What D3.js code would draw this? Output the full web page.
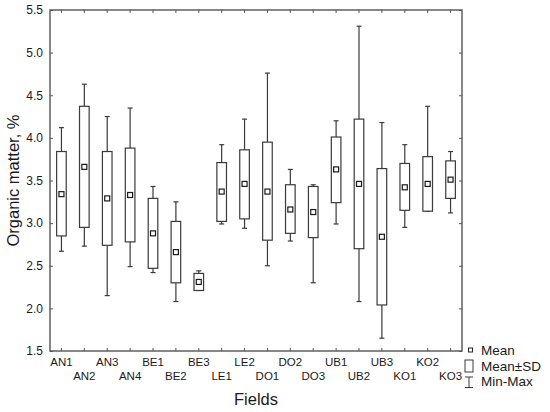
<!DOCTYPE html>
<html>
<head>
<meta charset="utf-8">
<script src="https://cdn.jsdelivr.net/npm/d3@7"></script>
<style>
  body { margin: 0; background: #fff; }
  svg { font-family: "Liberation Sans", Arial, sans-serif; }
</style>
</head>
<body>
<svg id="chart"></svg>
<script>
// field names and summary stats
const fields = ['AN1','AN2','AN3','AN4','BE1','BE2','BE3','LE1','LE2','DO1','DO2','DO3','UB1','UB2','UB3','KO1','KO2','KO3'];
const means  = [3.34, 3.66, 3.29, 3.33, 2.88, 2.66, 2.31, 3.37, 3.46, 3.37, 3.16, 3.13, 3.63, 3.46, 2.84, 3.42, 3.46, 3.51];
const sdHigh = [3.84, 4.37, 3.84, 3.88, 3.29, 3.02, 2.41, 3.71, 3.86, 3.95, 3.45, 3.43, 4.01, 4.22, 3.64, 3.70, 3.78, 3.73];
const sdLow  = [2.85, 2.95, 2.74, 2.78, 2.47, 2.30, 2.21, 3.02, 3.05, 2.80, 2.88, 2.83, 3.24, 2.70, 2.04, 3.15, 3.14, 3.29];
const maxes  = [4.12, 4.63, 4.25, 4.35, 3.43, 3.25, 2.44, 3.92, 4.22, 4.76, 3.63, 3.45, 4.20, 5.31, 4.18, 3.92, 4.37, 3.84];
const mins   = [2.67, 2.73, 2.15, 2.49, 2.42, 2.08, 2.21, 2.99, 2.94, 2.50, 2.79, 2.30, 2.99, 2.08, 1.65, 2.95, 3.14, 3.12];
const yTicks = [1.5, 2.0, 2.5, 3.0, 3.5, 4.0, 4.5, 5.0, 5.5];

const W = 550, H = 412;
const margin = { top: 10, right: 88, bottom: 61, left: 50 };
const width = W - margin.left - margin.right;
const height = H - margin.top - margin.bottom;
const lineCol = '#3a3a3a';
const textCol = '#1a1a1a';

const data = fields.map((f, i) => ({
  field: f, mean: means[i], hi: sdHigh[i], lo: sdLow[i], max: maxes[i], min: mins[i]
}));

const svg = d3.select('#chart').attr('width', W).attr('height', H);
const g = svg.append('g').attr('transform', `translate(${margin.left},${margin.top})`);

const x = d3.scaleBand().domain(fields).range([0, width]);
const y = d3.scaleLinear().domain([1.5, 5.5]).range([height, 0]);

const boxW = x.bandwidth() * 0.42;
const capW = 5;
const cx = d => x(d.field) + x.bandwidth() / 2;

// frame
g.append('rect')
  .attr('x', 0).attr('y', 0)
  .attr('width', width).attr('height', height)
  .attr('fill', 'none')
  .attr('stroke', '#555')
  .attr('stroke-width', 1.4);

// inward ticks on all four sides
const tickStyle = sel => sel.call(s => s.select('.domain').remove())
  .call(s => s.selectAll('.tick line').attr('stroke', '#555'))
  .call(s => s.selectAll('.tick text').attr('fill', textCol));

g.append('g')
  .call(d3.axisLeft(y).tickValues(yTicks).tickFormat(d3.format('.1f')).tickSizeInner(-3).tickPadding(7))
  .call(tickStyle)
  .selectAll('text').style('font-size', '12px');

g.append('g')
  .attr('transform', `translate(${width},0)`)
  .call(d3.axisRight(y).tickValues(yTicks).tickSizeInner(-3).tickFormat(''))
  .call(tickStyle);

g.append('g')
  .attr('transform', `translate(0,${height})`)
  .call(d3.axisBottom(x).tickSizeInner(-3).tickSizeOuter(0).tickPadding(7))
  .call(tickStyle)
  .selectAll('text')
  .style('font-size', '11.5px')
  .attr('dy', (d, i) => i % 2 ? '1.9em' : '0.7em');

g.append('g')
  .call(d3.axisTop(x).tickSizeInner(-3).tickSizeOuter(0).tickFormat(''))
  .call(tickStyle);

// boxes
const boxes = g.append('g').selectAll('g.box')
  .data(data)
  .join('g')
  .attr('class', 'box');

// whiskers
boxes.append('line')
  .attr('x1', cx).attr('x2', cx)
  .attr('y1', d => y(d.max)).attr('y2', d => y(d.hi))
  .attr('stroke', lineCol).attr('stroke-width', 1.2);
boxes.append('line')
  .attr('x1', cx).attr('x2', cx)
  .attr('y1', d => y(d.lo)).attr('y2', d => y(d.min))
  .attr('stroke', lineCol).attr('stroke-width', 1.2);
boxes.append('line')
  .attr('x1', d => cx(d) - capW / 2).attr('x2', d => cx(d) + capW / 2)
  .attr('y1', d => y(d.max)).attr('y2', d => y(d.max))
  .attr('stroke', lineCol).attr('stroke-width', 1.2);
boxes.append('line')
  .attr('x1', d => cx(d) - capW / 2).attr('x2', d => cx(d) + capW / 2)
  .attr('y1', d => y(d.min)).attr('y2', d => y(d.min))
  .attr('stroke', lineCol).attr('stroke-width', 1.2);

// mean ± SD box
boxes.append('rect')
  .attr('x', d => cx(d) - boxW / 2)
  .attr('y', d => y(d.hi))
  .attr('width', boxW)
  .attr('height', d => y(d.lo) - y(d.hi))
  .attr('fill', '#fff')
  .attr('stroke', lineCol).attr('stroke-width', 1.2);

// mean marker
boxes.append('rect')
  .attr('x', d => cx(d) - 2.5)
  .attr('y', d => y(d.mean) - 2.5)
  .attr('width', 5).attr('height', 5)
  .attr('fill', '#fff')
  .attr('stroke', '#1a1a1a').attr('stroke-width', 1.2);

// axis titles
svg.append('text')
  .attr('transform', `translate(19,${margin.top + height / 2}) rotate(-90)`)
  .attr('text-anchor', 'middle')
  .attr('fill', textCol)
  .style('font-size', '16.5px')
  .text('Organic matter, %');

svg.append('text')
  .attr('x', margin.left + width / 2)
  .attr('y', 405)
  .attr('text-anchor', 'middle')
  .attr('fill', textCol)
  .style('font-size', '16.5px')
  .text('Fields');

// legend
const lg = svg.append('g').attr('transform', `translate(${margin.left + width},0)`);
lg.append('rect')
  .attr('x', 6.5).attr('y', 348).attr('width', 4).attr('height', 4)
  .attr('fill', '#fff').attr('stroke', '#222').attr('stroke-width', 1);
lg.append('rect')
  .attr('x', 3).attr('y', 360).attr('width', 8).attr('height', 12)
  .attr('fill', '#fff').attr('stroke', lineCol).attr('stroke-width', 1);
lg.append('line')
  .attr('x1', 7).attr('x2', 7).attr('y1', 377).attr('y2', 387.5)
  .attr('stroke', lineCol).attr('stroke-width', 1);
lg.append('line')
  .attr('x1', 3).attr('x2', 11).attr('y1', 377).attr('y2', 377)
  .attr('stroke', lineCol).attr('stroke-width', 1);
lg.append('line')
  .attr('x1', 3).attr('x2', 11).attr('y1', 387.5).attr('y2', 387.5)
  .attr('stroke', lineCol).attr('stroke-width', 1);

const legendLabels = ['Mean', 'Mean±SD', 'Min-Max'];
lg.selectAll('text.lgl')
  .data(legendLabels)
  .join('text')
  .attr('class', 'lgl')
  .attr('x', 19)
  .attr('y', (d, i) => 355 + i * 15.5)
  .attr('fill', textCol)
  .style('font-size', '13.5px')
  .text(d => d);
</script>
</body>
</html>
